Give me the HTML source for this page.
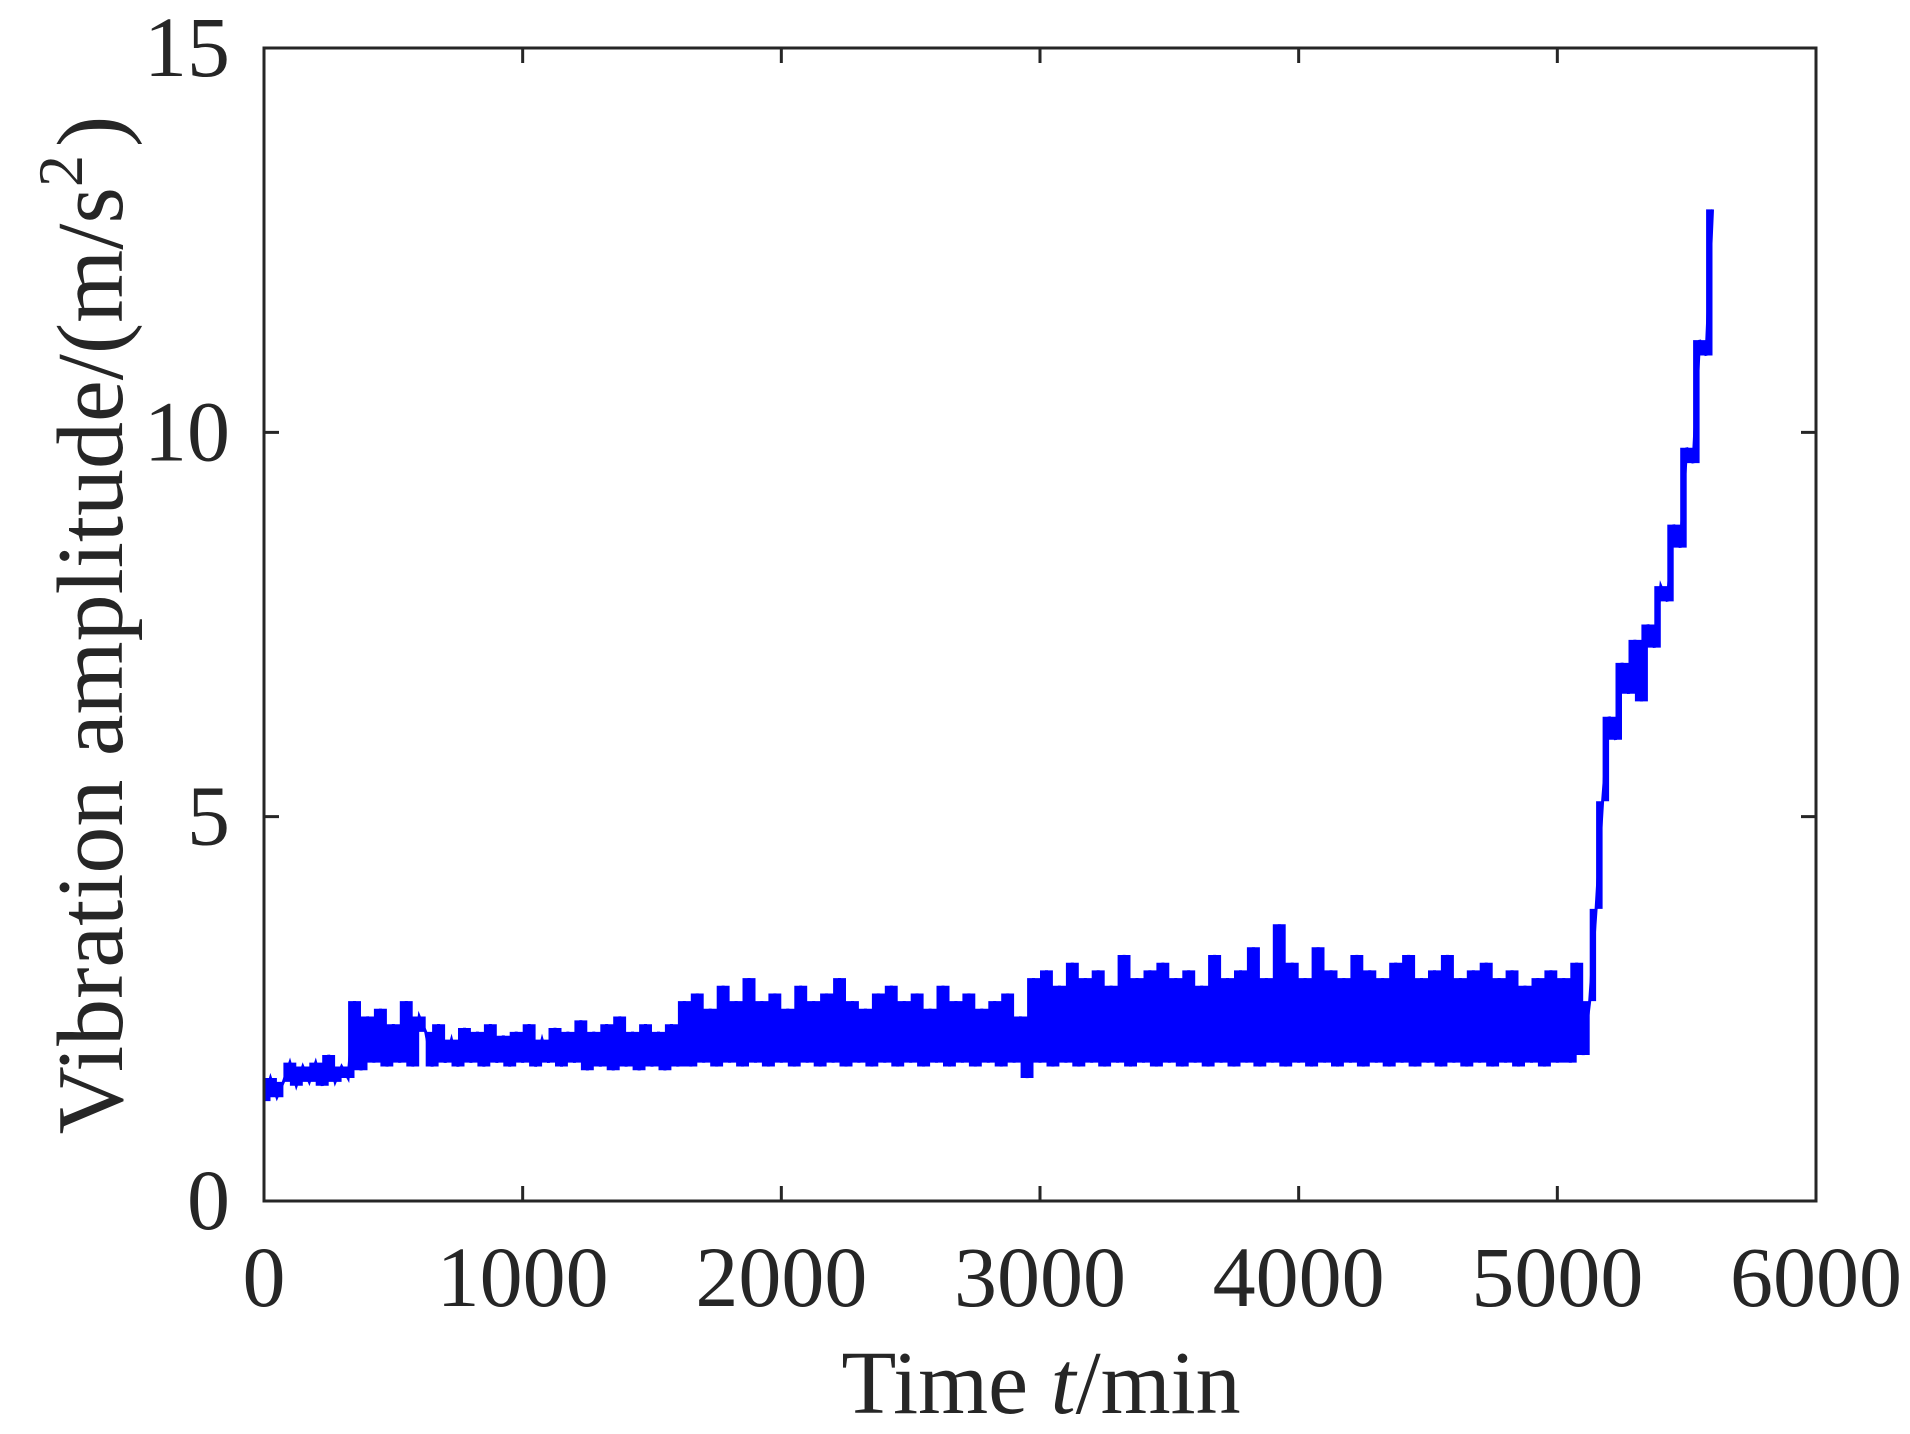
<!DOCTYPE html>
<html><head><meta charset="utf-8"><style>
html,body{margin:0;padding:0;background:#fff;}
svg{display:block;font-family:"Liberation Serif",serif;}
</style></head><body>
<svg id="chart" width="1910" height="1434" viewBox="0 0 1910 1434">
<rect x="0" y="0" width="1910" height="1434" fill="#fff"/>
<g id="ticks"></g>
<path id="band" fill="#0000ff" stroke="none"/>
<polyline id="series" fill="none" stroke="#0000ff" stroke-width="3" stroke-linejoin="miter"/>
<rect x="264" y="48" width="1552" height="1153" fill="none" stroke="#262626" stroke-width="3"/>
<text x="1041" y="1413" font-size="90" text-anchor="middle" fill="#262626">Time <tspan font-style="italic">t</tspan>/min</text>
<text transform="translate(122,625) rotate(-90)" font-size="94" text-anchor="middle" fill="#262626">Vibration amplitude/(m/s<tspan dy="-40" font-size="64">2</tspan><tspan dy="40" dx="8">)</tspan></text>
</svg>
<script>
const xTicks = [0,1000,2000,3000,4000,5000,6000];
const yTicks = [0,5,10,15];
const timeStep = 25;
const amplitudeValues = [
1.3,1.6,1.35,1.55,
1.8,1.5,1.75,1.55,1.8,1.5,1.9,1.55,1.75,1.6,
2.6,1.7,2.4,1.8,2.5,1.75,2.3,1.8,2.6,1.75,2.4,
2.2,1.75,2.3,1.8,2.1,1.75,2.25,1.8,2.2,1.75,2.3,1.8,2.15,1.75,2.2,1.8,2.3,1.75,2.1,1.8,2.25,1.75,2.2,1.8,2.35,1.7,2.2,1.75,2.3,1.7,2.4,1.75,2.2,1.7,2.3,1.75,2.2,1.7,2.3,1.75,
2.6,1.75,2.7,1.8,2.5,1.75,2.8,1.8,2.6,1.75,2.9,1.8,2.6,1.75,2.7,1.8,2.5,1.75,2.8,1.8,2.6,1.75,2.7,1.8,2.9,1.75,2.6,1.8,2.5,1.75,2.7,1.8,2.8,1.75,2.6,1.8,2.7,1.75,2.5,1.8,2.8,1.75,2.6,1.8,2.7,1.75,2.5,1.8,2.6,1.75,2.7,1.8,2.4,
1.6,
2.9,1.8,3.0,1.75,2.8,1.8,3.1,1.75,2.9,1.8,3.0,1.75,2.8,1.8,3.2,1.75,2.9,1.8,3.0,1.75,3.1,1.8,2.9,1.75,3.0,1.8,2.8,1.75,3.2,1.8,2.9,1.75,3.0,1.8,3.3,1.75,2.9,1.8,3.6,1.75,3.1,1.8,2.9,1.75,3.3,1.8,3.0,1.75,2.9,1.8,3.2,1.75,3.0,1.8,2.9,1.75,3.1,1.8,3.2,1.75,2.9,1.8,3.0,1.75,3.2,1.8,2.9,1.75,3.0,1.8,3.1,1.75,2.9,1.8,3.0,1.75,2.8,1.8,2.9,1.75,3.0,1.8,2.9,1.8,3.1,1.9,
2.6,3.8,5.2,6.3,6.0,7.0,6.6,7.3,6.5,7.5,7.2,8.0,7.8,8.8,8.5,9.8,9.6,11.2,11.0,12.9
];
const X0=264,X1=1816,Y0=1201,Y1=48;
function xs(t){return X0+(t-0)/(6000-0)*(X1-X0);}
function ys(v){return Y0-(v-0)/(15-0)*(Y0-Y1);}
const ns="http://www.w3.org/2000/svg";
const g=document.getElementById('ticks');
const svg=document.getElementById('chart');
xTicks.forEach(t=>{
  const x=xs(t);
  const l=document.createElementNS(ns,'path');
  l.setAttribute('d',`M${x},${Y0}v-15M${x},${Y1}v15`);
  l.setAttribute('stroke','#262626');l.setAttribute('stroke-width','3');
  
  
  g.appendChild(l);
  const tx=document.createElementNS(ns,'text');
  tx.setAttribute('x',x);tx.setAttribute('y',1306);
  tx.setAttribute('font-size','86');tx.setAttribute('text-anchor','middle');tx.setAttribute('fill','#262626');
  tx.textContent=t;
  
  
  svg.appendChild(tx);
});
yTicks.forEach(v=>{
  const y=ys(v);
  const l=document.createElementNS(ns,'path');
  l.setAttribute('d',`M${X0},${y}h15M${X1},${y}h-15`);
  l.setAttribute('stroke','#262626');l.setAttribute('stroke-width','3');
  
  
  g.appendChild(l);
  const tx=document.createElementNS(ns,'text');
  tx.setAttribute('x',230);tx.setAttribute('y',y+28);
  tx.setAttribute('font-size','86');tx.setAttribute('text-anchor','end');tx.setAttribute('fill','#262626');
  tx.textContent=v;
  
  
  svg.appendChild(tx);
});
let d='';
for(let i=0;i<amplitudeValues.length-1;i++){
  const a=amplitudeValues[i],b=amplitudeValues[i+1];
  const xa=xs(i*timeStep),xb=xs((i+1)*timeStep);
  const hi=ys(Math.max(a,b)),lo=ys(Math.min(a,b));
  d+=`M${xa.toFixed(1)},${hi.toFixed(1)}H${xb.toFixed(1)}V${lo.toFixed(1)}H${xa.toFixed(1)}Z`;
}
document.getElementById('band').setAttribute('d',d);
document.getElementById('series').setAttribute('points',
  amplitudeValues.map((v,i)=>xs(i*timeStep).toFixed(1)+','+ys(v).toFixed(1)).join(' '));
</script>
</body></html>
